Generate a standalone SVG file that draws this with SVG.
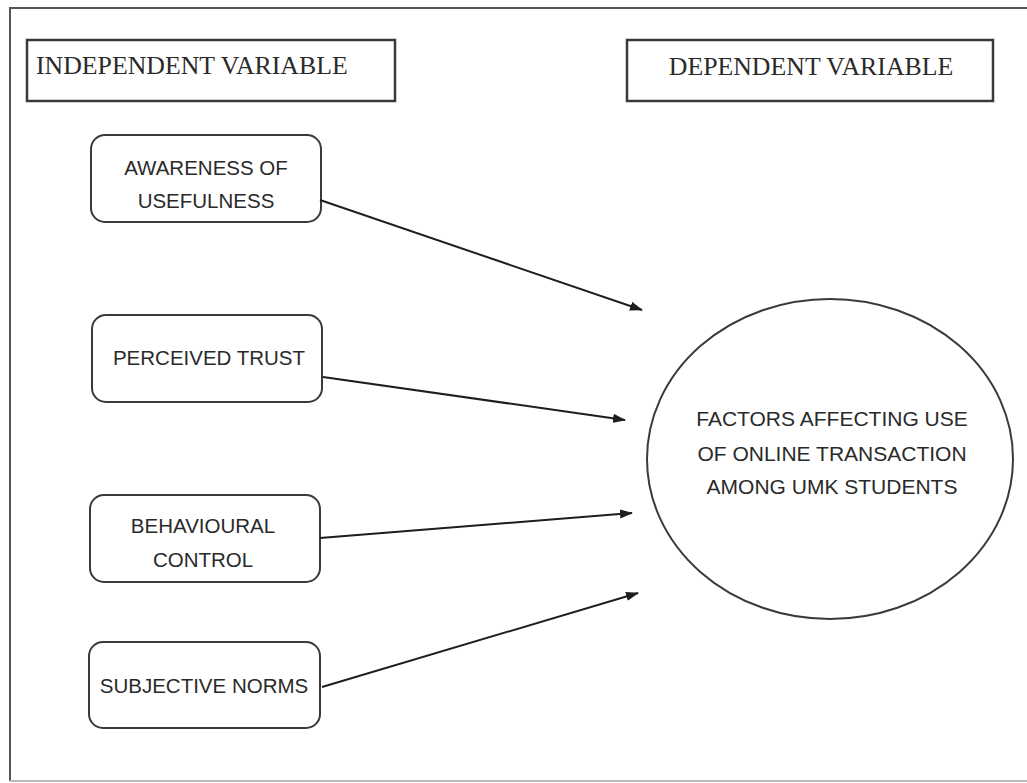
<svg xmlns="http://www.w3.org/2000/svg" width="1027" height="783" viewBox="0 0 1027 783">
<style>
.frame{fill:none;stroke:#555;stroke-width:2}
.hdr{fill:#fff;stroke:#3a3a3a;stroke-width:2.5}
.hdrt{font-family:"Liberation Serif","Times New Roman",serif;font-size:25.8px;fill:#2a2a2a}
.node{fill:#fff;stroke:#3a3a3a;stroke-width:2}
.nt{font-family:"Liberation Sans",Arial,sans-serif;font-size:20.5px;fill:#2a2a2a;text-anchor:middle}
.et{font-family:"Liberation Sans",Arial,sans-serif;font-size:21px;fill:#2a2a2a;text-anchor:middle}
.conn{stroke:#1e1e1e;stroke-width:2;fill:none;marker-end:url(#ah)}
</style>
<defs>
<marker id="ah" markerWidth="13" markerHeight="10" refX="12" refY="5" orient="auto" markerUnits="userSpaceOnUse">
<path d="M0,0.5 L13,5 L0,9.5 Z" fill="#1e1e1e"/>
</marker>
</defs>
<rect width="1027" height="783" fill="#fff"/>
<g id="frame">
<path class="frame" d="M1030,8 H10 V781"/>
<path d="M10,781 H1030" stroke="#bbb" stroke-width="2" fill="none"/>
</g>
<g id="independent-header">
<rect class="hdr" x="27" y="40" width="368" height="61"/>
<text class="hdrt" x="36" y="74">INDEPENDENT VARIABLE</text>
</g>
<g id="dependent-header">
<rect class="hdr" x="627" y="40" width="366" height="61"/>
<text class="hdrt" x="811" y="75" text-anchor="middle">DEPENDENT VARIABLE</text>
</g>
<g id="awareness">
<rect class="node" x="91" y="135" width="230" height="87" rx="14"/>
<text class="nt" x="206" y="175">AWARENESS OF</text>
<text class="nt" x="206" y="208">USEFULNESS</text>
</g>
<g id="perceived-trust">
<rect class="node" x="92" y="315" width="230" height="87" rx="14"/>
<text class="nt" x="209" y="365">PERCEIVED TRUST</text>
</g>
<g id="behavioural-control">
<rect class="node" x="90" y="495" width="230" height="87" rx="14"/>
<text class="nt" x="203" y="533">BEHAVIOURAL</text>
<text class="nt" x="203" y="567">CONTROL</text>
</g>
<g id="subjective-norms">
<rect class="node" x="89" y="642" width="231" height="86" rx="14"/>
<text class="nt" x="204" y="693">SUBJECTIVE NORMS</text>
</g>
<g id="factors">
<ellipse class="node" cx="830" cy="459" rx="183" ry="160"/>
<text class="et" x="832" y="426">FACTORS AFFECTING USE</text>
<text class="et" x="832" y="461">OF ONLINE TRANSACTION</text>
<text class="et" x="832" y="494">AMONG UMK STUDENTS</text>
</g>
<g id="connectors">
<line class="conn" x1="320" y1="200" x2="642" y2="310"/>
<line class="conn" x1="323" y1="377" x2="625" y2="420"/>
<line class="conn" x1="320" y1="538" x2="632" y2="513"/>
<line class="conn" x1="322" y1="687" x2="638" y2="593"/>
</g>
</svg>
